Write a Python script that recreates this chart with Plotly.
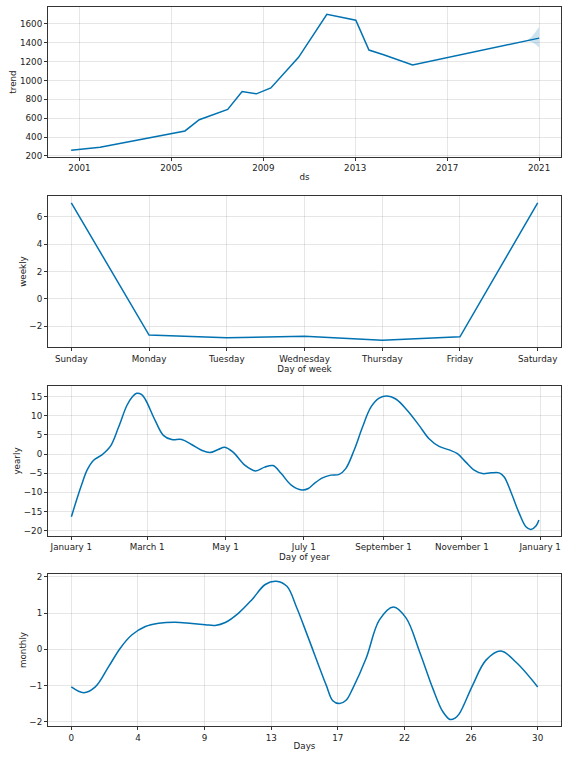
import pandas as pd
import numpy as np
import plotly.graph_objs as go

# trend component
trend_dates = ["2000-08-22", "2001-11-25", "2005-08-05", "2006-03-20", "2007-06-15",
               "2008-01-30", "2008-09-12", "2009-05-01", "2010-07-15", "2011-10-08",
               "2013-01-10", "2013-08-07", "2014-03-28", "2015-07-01", "2021-01-01"]
trend_values = [260, 292, 464, 583, 692, 882, 858, 921, 1245, 1702,
                1639, 1322, 1273, 1164, 1449]
band_dates = ["2020-06-15", "2020-09-01", "2020-11-01", "2021-01-01"]
band_upper = [1421, 1462, 1510, 1570]
band_lower = [1421, 1410, 1385, 1350]

# weekly component
week_days = ["Sunday", "Monday", "Tuesday", "Wednesday", "Thursday", "Friday", "Saturday"]
weekly_values = [7.0, -2.63, -2.83, -2.71, -3.0, -2.76, 7.0]

# yearly component (day offset from January 1)
yearly_days = [0, 4.4, 8.3, 12.2, 17.3, 23.8, 30.3, 36.7, 43.2, 47.5, 50.9, 54.5, 57.4, 65.2,
               71.6, 78.1, 85.9, 93.6, 101.4, 107.8, 114.3, 119.5, 125.9, 135,
               143.3, 150.5, 157, 163.4, 171.2, 179.5, 184.5, 189, 195.5, 202,
               208.5, 213.6, 220.1, 226.6, 233.1, 239.6, 245.6, 252.6, 261.6,
               270.7, 278.5, 286.3, 294.1, 300.6, 307.1, 313.6, 320.1, 326.6,
               333.1, 337, 342.2, 348.7, 353.9, 357.8, 361.7, 364]
yearly_values = [-16.4, -11.6, -7.7, -4.2, -1.6, -0.2, 2.0, 7.0, 12.7, 15.0, 15.9, 15.6, 14.4, 8.8,
                 4.9, 3.8, 3.8, 2.5, 1.0, 0.4, 1.2, 1.8, 0.5, -2.9,
                 -4.4, -3.4, -3.0, -5.1, -8.1, -9.4, -9.0, -7.7, -6.2, -5.5,
                 -5.3, -3.8, 1.0, 7.0, 12.2, 14.6, 15.2, 14.4, 11.4,
                 7.5, 4.0, 2.0, 1.1, 0.1, -2.1, -4.2, -5.1, -4.9,
                 -4.9, -6.0, -9.9, -15.5, -19.0, -19.7, -18.8, -17.2]
year_tick_dates = ["2017-01-01", "2017-03-01", "2017-05-01", "2017-07-01",
                   "2017-09-01", "2017-11-01", "2018-01-01"]
year_tick_labels = ["January 1", "March 1", "May 1", "July 1",
                    "September 1", "November 1", "January 1"]

# monthly component
monthly_days = [0, 0.81, 1.57, 2.44, 3.2, 3.97, 4.84, 5.71, 6.8, 7.89, 8.76, 9.41,
                10.07, 10.94, 11.81, 12.68, 13.4, 14.1, 14.75, 15.47, 16.67, 17.1, 17.54,
                17.97, 18.41, 19.28, 20.15, 21.07, 21.9, 22.77, 23.64, 24.29, 24.77, 25.1,
                25.38, 26.25, 27.12, 28.1, 29.09, 30.5]
monthly_values = [-1.04, -1.20, -1.04, -0.48, 0.03, 0.40, 0.63, 0.72, 0.75, 0.71, 0.68, 0.66,
                  0.74, 1.0, 1.37, 1.79, 1.88, 1.74, 1.14, 0.35, -0.99, -1.42, -1.5,
                  -1.41, -1.08, -0.25, 0.81, 1.17, 0.86, -0.06, -1.08, -1.72, -1.94, -1.90,
                  -1.78, -0.99, -0.30, -0.05, -0.36, -1.04]
month_tick_labels = ["0", "4", "9", "13", "17", "22", "26", "30"]

LINE = '#0072B2'
yearly_dates = pd.Timestamp("2017-01-01") + pd.to_timedelta(yearly_days, unit="D")

fig = go.Figure()
fig.add_trace(go.Scatter(x=band_dates, y=band_lower, mode='lines', line=dict(width=0),
                         xaxis='x', yaxis='y', showlegend=False, hoverinfo='skip'))
fig.add_trace(go.Scatter(x=band_dates, y=band_upper, mode='lines', line=dict(width=0),
                         fill='tonexty', fillcolor='rgba(0,114,178,0.2)',
                         xaxis='x', yaxis='y', showlegend=False, hoverinfo='skip'))
fig.add_trace(go.Scatter(x=trend_dates, y=trend_values, mode='lines',
                         line=dict(color=LINE, width=1.5), xaxis='x', yaxis='y'))
fig.add_trace(go.Scatter(x=week_days, y=weekly_values, mode='lines',
                         line=dict(color=LINE, width=1.5), xaxis='x2', yaxis='y2'))
fig.add_trace(go.Scatter(x=yearly_dates, y=yearly_values, mode='lines',
                         line=dict(color=LINE, width=1.5, shape='spline', smoothing=1.0),
                         xaxis='x3', yaxis='y3'))
fig.add_trace(go.Scatter(x=monthly_days, y=monthly_values, mode='lines',
                         line=dict(color=LINE, width=1.5, shape='spline', smoothing=1.0),
                         xaxis='x4', yaxis='y4'))

# shared axis look (matplotlib style)
ax_style = dict(showline=True, mirror=True, linecolor='#333', linewidth=1,
                ticks='outside', ticklen=3, tickwidth=0.8, tickcolor='#333',
                showgrid=True, gridcolor='rgba(128,128,128,0.2)', gridwidth=0.9,
                zeroline=False, automargin=False,
                title_font=dict(size=8.75), title_standoff=1)

domains = [[0.7914, 1.0], [0.5271, 0.7371], [0.2643, 0.4729], [0.0, 0.2114]]

fig.update_layout(
    width=567, height=759,
    margin=dict(l=48, r=6, t=7, b=33),
    paper_bgcolor='white', plot_bgcolor='white',
    showlegend=False,
    font=dict(family='DejaVu Sans', size=8.75, color='#222'),
    xaxis=dict(ax_style, anchor='y', domain=[0, 1], type='date',
               range=["1999-08-20", "2021-12-15"], tick0="2001-01-01", dtick="M48",
               tickformat="%Y", title_text='ds'),
    yaxis=dict(ax_style, anchor='x', domain=domains[0], range=[188, 1779], dtick=200,
               title_text='trend'),
    xaxis2=dict(ax_style, anchor='y2', domain=[0, 1], type='category',
                range=[-0.3, 6.3], title_text='Day of week'),
    yaxis2=dict(ax_style, anchor='x2', domain=domains[1], range=[-3.5, 7.5], dtick=2,
                title_text='weekly'),
    xaxis3=dict(ax_style, anchor='y3', domain=[0, 1], type='date',
                range=["2016-12-13 19:00", "2018-01-17 05:00"],
                tickvals=year_tick_dates, ticktext=year_tick_labels,
                title_text='Day of year'),
    yaxis3=dict(ax_style, anchor='x3', domain=domains[2], range=[-21.4, 17.8], dtick=5,
                title_text='yearly'),
    xaxis4=dict(ax_style, anchor='y4', domain=[0, 1], range=[-1.525, 32.025],
                tickvals=np.linspace(0, 30.5, len(month_tick_labels)),
                ticktext=month_tick_labels, title_text='Days'),
    yaxis4=dict(ax_style, anchor='x4', domain=domains[3], range=[-2.12, 2.08], dtick=1,
                title_text='monthly'),
)

# the page body has a default margin; drop it so the figure fills the window
fig.write_html("out.html", config={'displayModeBar': False},
               post_script="document.body.style.margin='0px';")
